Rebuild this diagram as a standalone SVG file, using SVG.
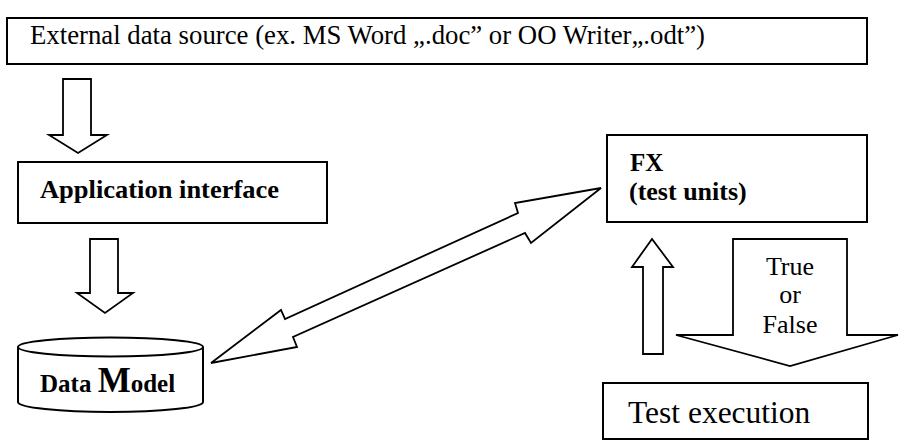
<svg xmlns="http://www.w3.org/2000/svg" width="902" height="441" viewBox="0 0 902 441">
<style>
.box{fill:#fff;stroke:#000;stroke-width:2}
.arr{fill:#fff;stroke:#000;stroke-width:1.8;stroke-linejoin:miter}
.b{font-weight:bold}
</style>
<rect width="902" height="441" fill="#fff"/>
<g font-family="'Liberation Serif', Tinos, 'Times New Roman', 'DejaVu Serif', serif" fill="#000">
<g id="external">
<rect class="box" x="7" y="18" width="860" height="46"/>
<text x="30" y="44" font-size="26.5" textLength="675" lengthAdjust="spacingAndGlyphs">External data source (ex. MS Word „.doc” or OO Writer„.odt”)</text>
</g>
<g id="appif">
<rect class="box" x="18" y="162" width="309" height="61"/>
<text class="b" x="40" y="198" font-size="25" textLength="239" lengthAdjust="spacingAndGlyphs">Application interface</text>
</g>
<g id="datamodel">
<path class="box" d="M18,347 V402 A92.5,10 0 0 0 203,402 V347"/>
<ellipse class="box" cx="110.5" cy="347" rx="92.5" ry="9.5"/>
<text class="b" x="40" y="392" font-size="25">Data <tspan font-size="35">M</tspan>odel</text>
</g>
<g id="fx">
<rect class="box" x="607" y="135" width="260" height="87"/>
<text class="b" x="630" y="171" font-size="25">FX</text>
<text class="b" x="629" y="200" font-size="26">(test units)</text>
</g>
<g id="testexec">
<rect class="box" x="603" y="383" width="265" height="56"/>
<text x="628" y="423" font-size="31.5">Test execution</text>
</g>
<g id="connectors">
<polygon class="arr" points="63,79 91,79 91,135 107,135 78,153 49,135 63,135"/>
<polygon class="arr" points="90,239 118,239 118,293 133,293 105,313 77,293 90,293"/>
<polygon class="arr" points="211,363 281,310 285,319 518,213 515,203 601,188 531,243 525,233 293,337 297,347"/>
<polygon class="arr" points="643,354 663,354 663,267 673,267 652,239 632,267 643,267"/>
<polygon class="arr" points="733,239 847,239 847,335 898,335 790,366 676,335 733,335"/>
<text x="790" y="275" font-size="26" text-anchor="middle">True</text>
<text x="790" y="303" font-size="26" text-anchor="middle">or</text>
<text x="790" y="333" font-size="26" text-anchor="middle">False</text>
</g>
</g>
</svg>
